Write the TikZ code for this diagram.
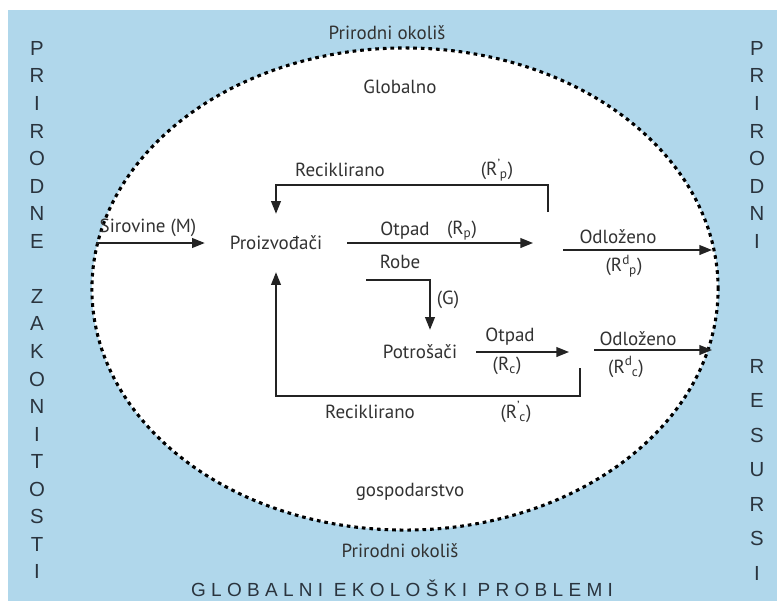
\documentclass[tikz,border=0pt]{standalone}
\usepackage{fontspec}
\setmainfont{PT Sans}
\newfontfamily\capsfont{Liberation Sans}
\usetikzlibrary{arrows.meta,positioning,shapes.geometric}
\definecolor{envblue}{RGB}{176,215,235}
\definecolor{inktext}{RGB}{50,50,50}
\definecolor{inkline}{RGB}{35,35,35}
\definecolor{capsgrey}{RGB}{42,52,62}
\newcommand{\Rq}[2]{R\textsuperscript{#1}\kern-0.05em\textsubscript{#2}}

\begin{document}
\begin{tikzpicture}[x=0.025cm,y=-0.025cm,
  every node/.style={font=\fontsize{13.5}{15}\selectfont,text=inktext,inner sep=0pt},
  flow/.style={-{Triangle[length=9pt,width=7pt]},line width=1pt,draw=inkline},
  economy/.style={ellipse,draw=black,fill=white,line width=2.2pt,
                  dash pattern=on 2.6pt off 2.8pt,inner sep=0pt},
  vletters/.style={font=\capsfont\fontsize{14.5}{19.6}\selectfont,align=center,
                   anchor=north,text=capsgrey}]

  % Natural environment
  \useasboundingbox (0,0) rectangle (777,601);
  \fill[envblue] (8,10) rectangle (777,601);
  \node[economy,minimum width=15.65cm,minimum height=12.05cm] (econ) at (405,289) {};

  \node (topenv) at (387,33) {Prirodni okoliš};
  \node (botenv) at (400,551) {Prirodni okoliš};
  \node (globalno) at (400,87) {Globalno};
  \node (gosp) at (410,492) {gospodarstvo};
  \node[font=\capsfont\fontsize{13.5}{15}\selectfont\addfontfeatures{LetterSpace=28},text=capsgrey]
    (problems) at (402,588) {GLOBALNI EKOLOŠKI PROBLEMI};

  % Side columns
  \node[vletters] (lawcol) at (37,41)
    {P\\R\\I\\R\\O\\D\\N\\E\\\mbox{}\\Z\\A\\K\\O\\N\\I\\T\\O\\S\\T\\I};
  \node[vletters] (rescola) at (757,41) {P\\R\\I\\R\\O\\D\\N\\I};
  \node[vletters,font=\capsfont\fontsize{14.5}{24.5}\selectfont] (rescolb) at (757,359)
    {R\\E\\S\\U\\R\\S\\I};

  % Actors
  \node[minimum width=3.55cm,minimum height=1.45cm] (prod) at (276,243) {Proizvođači};
  \node[minimum width=2.8cm,minimum height=1.1cm] (cons) at (420,352) {Potrošači};

  % Free ends
  \coordinate (rawin) at (96,243);
  \coordinate (rpend) at (533,243);
  \coordinate (rptap) at (548,212);
  \coordinate (dpstart) at (563,250);
  \coordinate (dpend) at (712,250);
  \coordinate (robestart) at (366,280);
  \coordinate (rcend) at (569,352);
  \coordinate (dcstart) at (594,350);
  \coordinate (dcend) at (712,350);
  \coordinate (rctap) at (580,368);

  % Flows
  \draw[flow] (rawin) -- (prod.west);
  \draw[flow] (prod.east) -- (rpend);
  \draw[flow] (rptap) -- ++(0,-27) -| (prod.north);
  \draw[flow] (rctap) -- ++(0,28) -| (prod.south);
  \draw[flow] (robestart) -| ([xshift=0.25cm]cons.north);
  \draw[flow] (cons.east) -- (rcend);
  \draw[flow] (dpstart) -- (dpend);
  \draw[flow] (dcstart) -- (dcend);

  % Flow labels
  \node (rawlab) at (148,228) {Sirovine (M)};
  \node (recp) at (340,170) {Reciklirano};
  \node (recpsym) at (497,170) {(\Rq{'}{p})};
  \node (otpadp) at (405,231) {Otpad};
  \node (otpadpsym) at (462,231) {(R\textsubscript{p})};
  \node (robe) at (400,262) {Robe};
  \node (goods) at (448,300) {(G)};
  \node (otpadc) at (510,337) {Otpad};
  \node (otpadcsym) at (507,366) {(R\textsubscript{c})};
  \node (odlp) at (618,237) {Odloženo};
  \node (odlpsym) at (624,266) {(\Rq{d}{p})};
  \node (odlc) at (638,339) {Odloženo};
  \node (odlcsym) at (626,367) {(\Rq{d}{c})};
  \node (recc) at (370,412) {Reciklirano};
  \node (reccsym) at (516,412) {(\Rq{'}{c})};

\end{tikzpicture}
\end{document}
